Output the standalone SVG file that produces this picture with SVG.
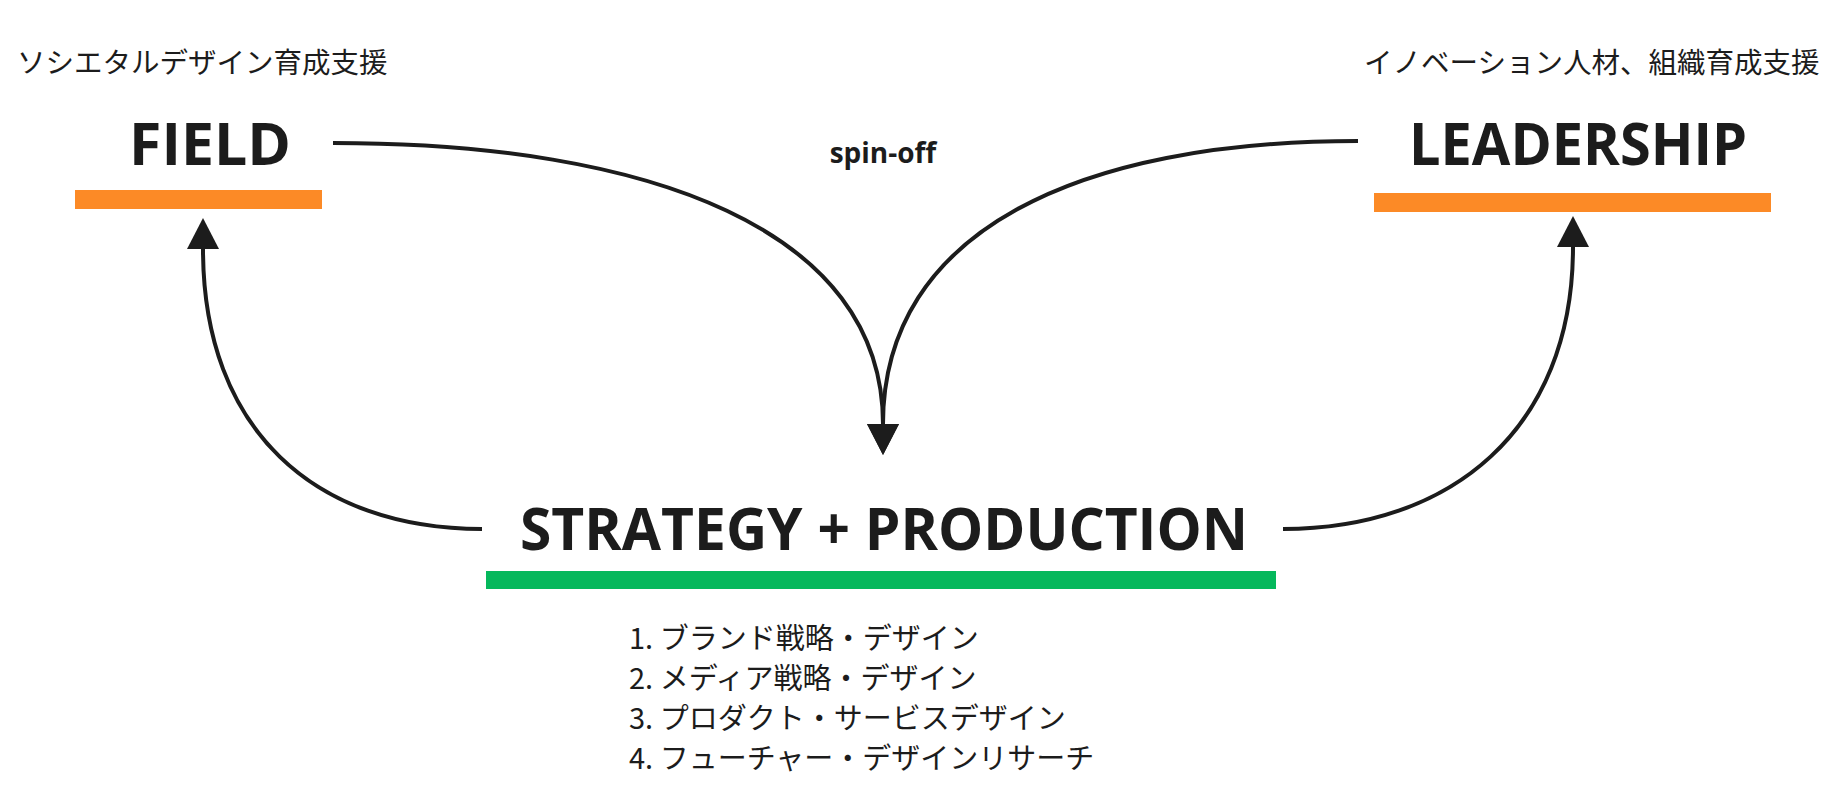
<svg xmlns="http://www.w3.org/2000/svg" width="1830" height="805" viewBox="0 0 1830 805">
<style>
.sub{font-family:"Noto Sans CJK JP","Noto Sans",sans-serif;font-size:28.5px;fill:#1c1c1c}
.title{font-family:"Open Sans","Noto Sans",sans-serif;font-weight:700;font-size:59px;fill:#1c1c1c;text-anchor:middle}
.lbl{font-family:"Open Sans","Noto Sans",sans-serif;font-weight:700;font-size:28px;fill:#1c1c1c;text-anchor:middle}
.list{font-family:"Noto Sans CJK JP","Noto Sans",sans-serif;font-size:29px;fill:#1c1c1c}
.conn{fill:none;stroke:#1c1c1c;stroke-width:4;marker-end:url(#arr)}
</style>
<defs>
<marker id="arr" markerUnits="userSpaceOnUse" markerWidth="32" markerHeight="32" refX="0" refY="16" orient="auto" overflow="visible">
<path d="M0,0 L31,16 L0,32 Z" fill="#1c1c1c"/>
</marker>
</defs>
<rect width="1830" height="805" fill="#ffffff"/>
<g id="field">
<text class="sub" x="17" y="73">ソシエタルデザイン育成支援</text>
<text class="title" x="210" y="165">FIELD</text>
<rect x="75" y="190" width="247" height="19" fill="#fc8a26"/>
</g>
<g id="leadership">
<text class="sub" x="1364" y="73">イノベーション人材、組織育成支援</text>
<text class="title" x="1578" y="165" textLength="338" lengthAdjust="spacingAndGlyphs">LEADERSHIP</text>
<rect x="1374" y="193" width="397" height="19" fill="#fc8a26"/>
</g>
<g id="strategy">
<text class="title" x="884" y="550" textLength="728" lengthAdjust="spacingAndGlyphs">STRATEGY + PRODUCTION</text>
<rect x="486" y="571" width="790" height="18" fill="#05b85c"/>
<text class="list" x="629" y="649">1. ブランド戦略・デザイン</text>
<text class="list" x="629" y="689">2. メディア戦略・デザイン</text>
<text class="list" x="629" y="729">3. プロダクト・サービスデザイン</text>
<text class="list" x="629" y="769">4. フューチャー・デザインリサーチ</text>
</g>
<g id="connectors">
<path class="conn" d="M333,143 C650,143 883,230 883,424"/>
<path class="conn" d="M1358,141 C1080,141 883,230 883,424"/>
<path class="conn" d="M482,529 C315,529 203,430 203,249"/>
<path class="conn" d="M1283,529 C1450,529 1573,430 1573,247"/>
<text class="lbl" x="883" y="163">spin-off</text>
</g>
</svg>
